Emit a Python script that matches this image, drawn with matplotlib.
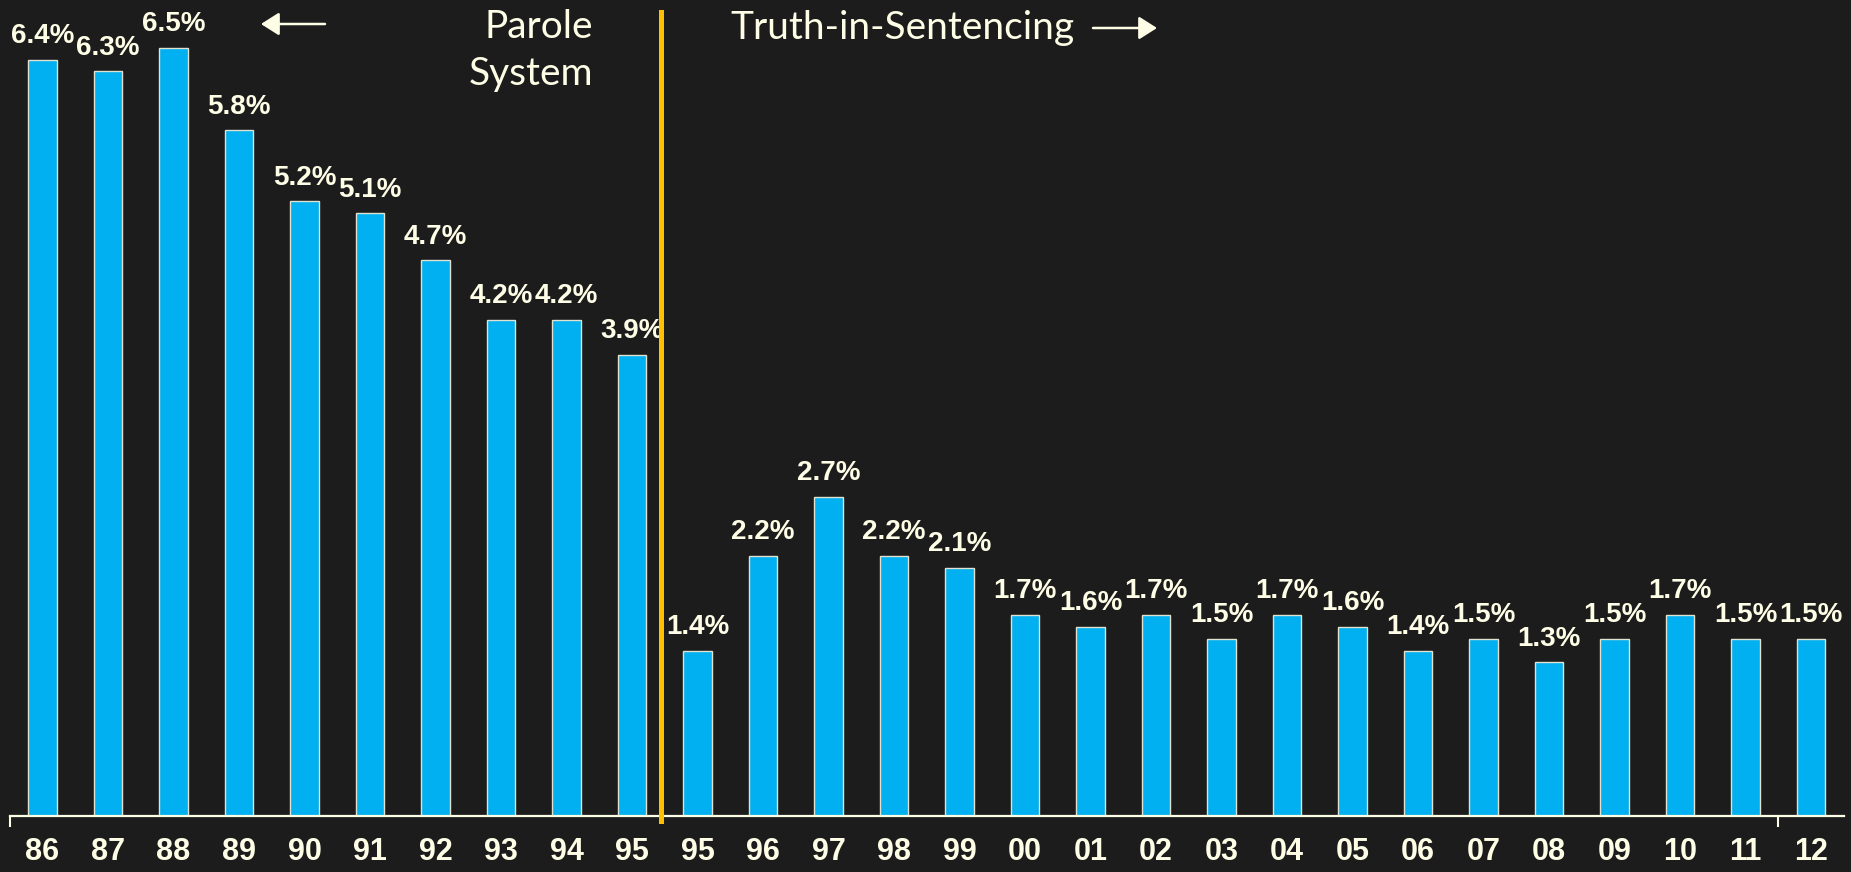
import matplotlib.pyplot as plt

# release rate by year, parole era then truth-in-sentencing era
years = ["86", "87", "88", "89", "90", "91", "92", "93", "94", "95",
         "95", "96", "97", "98", "99", "00", "01", "02", "03", "04",
         "05", "06", "07", "08", "09", "10", "11", "12"]
rates = [6.4, 6.3, 6.5, 5.8, 5.2, 5.1, 4.7, 4.2, 4.2, 3.9,
         1.4, 2.2, 2.7, 2.2, 2.1, 1.7, 1.6, 1.7, 1.5, 1.7,
         1.6, 1.4, 1.5, 1.3, 1.5, 1.7, 1.5, 1.5]
split_at = 9.45  # between the two "95" bars

W, H = 1851, 872
bg = "#1c1c1c"
cream = "#fefde6"
blue = "#00b0f0"
gold = "#ffc000"

plt.rcParams["font.family"] = ["Liberation Sans", "DejaVu Sans"]

fig = plt.figure(figsize=(W / 100, H / 100), dpi=100)
fig.patch.set_facecolor(bg)
ax = fig.add_axes([9.75 / W, 56 / H, 1834 / W, 816 / H])
ax.set_facecolor(bg)

x = list(range(len(years)))
ax.bar(x, rates, width=0.44, color=blue, edgecolor="#e2e2d0", linewidth=1.0, zorder=2)

for xi, v in zip(x, rates):
    ax.annotate(f"{v:.1f}%", (xi, v), xytext=(0, 12), textcoords="offset points",
                ha="center", va="baseline", color=cream, fontsize=20,
                fontweight="bold", zorder=3)

ax.set_xlim(-0.5, 27.5)
ax.set_ylim(0, 816 / 118.2)

for s in ["left", "right", "top"]:
    ax.spines[s].set_visible(False)
ax.spines["bottom"].set_color(cream)
ax.spines["bottom"].set_linewidth(1.6)

ax.set_yticks([])
ax.set_xticks(x)
ax.set_xticklabels(years, fontsize=22, fontweight="bold", color=cream)
ax.tick_params(axis="x", which="major", length=0, pad=15)
ax.set_xticks([-0.5, 26.5], minor=True)
ax.tick_params(axis="x", which="minor", length=8, width=1.5, color=cream, direction="out")

# divider between the two systems
ax.plot([split_at, split_at], [-0.04, 6.80], color=gold, lw=3.6, clip_on=False, zorder=5)

hdr = dict(color=cream, fontsize=28, family=["Lato", "DejaVu Sans"])
fig.text(593 / W, 1 - 38 / H, "Parole", ha="right", va="baseline", **hdr)
fig.text(593 / W, 1 - 85 / H, "System", ha="right", va="baseline", **hdr)
fig.text(730 / W, 1 - 39 / H, "Truth-in-Sentencing", ha="left", va="baseline", **hdr)

arrow = dict(arrowstyle="-|>,head_length=1.1,head_width=0.7", color=cream, lw=1.8,
             shrinkA=0, shrinkB=0)
ax.annotate("", xy=(261, H - 24), xycoords="figure pixels",
            xytext=(325, H - 24), textcoords="figure pixels", arrowprops=arrow)
ax.annotate("", xy=(1157, H - 28), xycoords="figure pixels",
            xytext=(1093, H - 28), textcoords="figure pixels", arrowprops=arrow)

fig.savefig("out.png", dpi=100, facecolor=bg)
